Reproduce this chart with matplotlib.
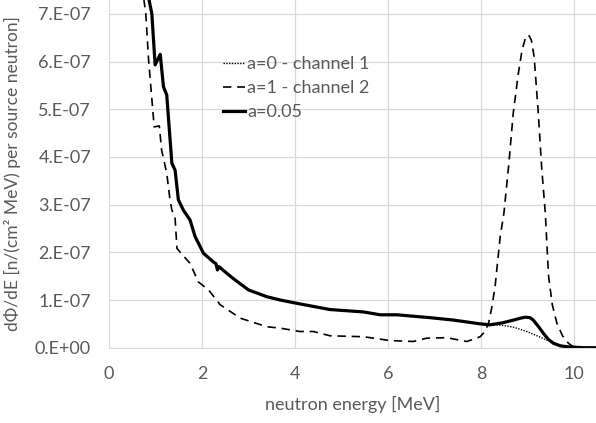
import matplotlib as mpl
mpl.use('Agg')
import matplotlib.pyplot as plt
from matplotlib.ticker import FixedLocator, FixedFormatter

plt.rcParams['font.family'] = ['Lato', 'DejaVu Sans']

# a=0.05 (thick solid)
e_mix = [0.70, 0.86, 0.92, 0.99, 1.05, 1.10, 1.17, 1.24, 1.35, 1.42, 1.49, 1.60, 1.74,
         1.85, 2.03, 2.24, 2.30, 2.33, 2.36, 2.67, 3.00, 3.39, 3.68, 4.04, 4.75, 5.47,
         5.83, 6.19, 6.90, 7.40, 7.98, 8.19, 8.45, 8.70, 8.85, 8.95, 9.05, 9.12, 9.22,
         9.34, 9.45, 9.56, 9.70, 9.84, 10.20, 10.47]
f_mix = [9.0, 7.29, 7.0, 5.93, 6.05, 6.15, 5.47, 5.30, 3.87, 3.72, 3.10, 2.88, 2.68,
         2.33, 1.98, 1.80, 1.76, 1.63, 1.70, 1.45, 1.21, 1.07, 1.00, 0.93, 0.80, 0.75,
         0.69, 0.69, 0.63, 0.58, 0.50, 0.48, 0.52, 0.58, 0.62, 0.64, 0.63, 0.58, 0.46,
         0.30, 0.17, 0.09, 0.04, 0.02, 0.0, 0.0]

# a=0 - channel 1 (thin dotted), same as a=0.05 below ~8.2 MeV
e_ch1 = [0.70, 0.86, 0.92, 0.99, 1.05, 1.10, 1.17, 1.24, 1.35, 1.42, 1.49, 1.60, 1.74,
         1.85, 2.03, 2.24, 2.30, 2.33, 2.36, 2.67, 3.00, 3.39, 3.68, 4.04, 4.75, 5.47,
         5.83, 6.19, 6.90, 7.40, 7.98, 8.19, 8.45, 8.70, 8.98, 9.20, 9.41, 9.65, 9.91,
         10.15, 10.47]
f_ch1 = [9.0, 7.29, 7.0, 5.93, 6.05, 6.15, 5.47, 5.30, 3.87, 3.72, 3.10, 2.88, 2.68,
         2.33, 1.98, 1.80, 1.76, 1.63, 1.70, 1.45, 1.21, 1.07, 1.00, 0.93, 0.80, 0.75,
         0.69, 0.69, 0.63, 0.58, 0.50, 0.48, 0.47, 0.43, 0.34, 0.25, 0.16, 0.07, 0.0,
         -0.03, 0.0]

# a=1 - channel 2 (dashed)
e_ch2 = [0.65, 0.75, 0.79, 0.85, 0.97, 1.08, 1.13, 1.24, 1.31, 1.35, 1.42, 1.46, 1.74,
         1.92, 2.14, 2.39, 2.82, 3.39, 3.68, 4.10, 4.39, 4.75, 5.47, 6.04, 6.54, 6.83,
         7.26, 7.69, 7.98, 8.08, 8.16, 8.23, 8.30, 8.41, 8.49, 8.60, 8.69, 8.80, 8.88,
         8.95, 9.02, 9.08, 9.14, 9.23, 9.30, 9.38, 9.45, 9.53, 9.63, 9.75, 9.88, 10.00,
         10.13, 10.38, 10.47]
f_ch2 = [9.0, 7.29, 7.0, 6.03, 4.63, 4.65, 4.14, 3.66, 3.10, 2.89, 2.71, 2.08, 1.77,
         1.38, 1.21, 0.90, 0.62, 0.44, 0.41, 0.34, 0.34, 0.25, 0.23, 0.15, 0.13, 0.20,
         0.21, 0.13, 0.23, 0.34, 0.51, 0.85, 1.28, 2.33, 2.82, 3.90, 4.91, 5.75, 6.24,
         6.48, 6.56, 6.45, 6.10, 4.91, 3.80, 2.82, 1.50, 0.90, 0.51, 0.25, 0.09, 0.01,
         -0.08, -0.05, 0.0]

x_ticks = [0, 2, 4, 6, 8, 10]
y_ticks = [0, 1, 2, 3, 4, 5, 6, 7]
y_ticklabels = ['0.E+00', '1.E-07', '2.E-07', '3.E-07', '4.E-07', '5.E-07', '6.E-07', '7.E-07']

grey = '#595959'

fig = plt.figure(figsize=(5.96, 4.23), dpi=100)
ax = fig.add_axes([0.183, 0.178, 0.817, 0.822])

ax.plot(e_ch1, [v * 1e-7 for v in f_ch1], color='black', linestyle=(0, (1, 1)),
        linewidth=1.0, label='a=0 - channel 1', zorder=3)
ax.plot(e_ch2, [v * 1e-7 for v in f_ch2], color='black', linestyle=(0, (5, 3.5)),
        linewidth=1.2, label='a=1 - channel 2', zorder=3)
ax.plot(e_mix, [v * 1e-7 for v in f_mix], color='black', linewidth=2.3,
        label='a=0.05', zorder=2)

ax.set_xlim(0, 10.47)
ax.set_ylim(0, 7.29e-7)
ax.xaxis.set_major_locator(FixedLocator(x_ticks))
ax.yaxis.set_major_locator(FixedLocator([v * 1e-7 for v in y_ticks]))
ax.yaxis.set_major_formatter(FixedFormatter(y_ticklabels))
ax.tick_params(length=0, labelsize=13, labelcolor=grey, pad=13)
ax.grid(color='#d9d9d9', linewidth=0.9, zorder=0)
ax.set_axisbelow(True)
for s in ['top', 'right', 'left']:
    ax.spines[s].set_visible(False)
ax.spines['bottom'].set_color('#d9d9d9')

ax.set_xlabel('neutron energy [MeV]', fontsize=13, color=grey, labelpad=10)
ax.set_ylabel('dΦ/dE [n/(cm² MeV) per source neutron]', fontsize=12.5, color=grey, labelpad=10)

leg = ax.legend(loc='upper left', bbox_to_anchor=(0.2, 0.885), frameon=False,
                fontsize=13, handlelength=1.25, handletextpad=0.1, labelspacing=0.45)
for t in leg.get_texts():
    t.set_color(grey)

fig.savefig('out.png', dpi=100)
